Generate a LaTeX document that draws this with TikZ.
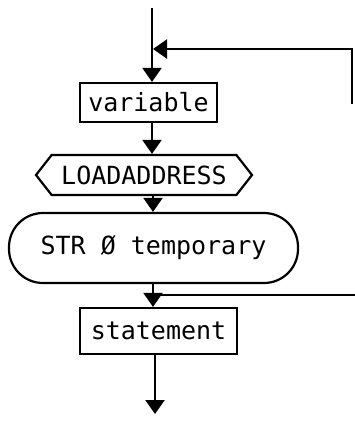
\documentclass[tikz,border=0pt]{standalone}
\usepackage{fontspec}
\setmonofont{DejaVu Sans Mono}
\usetikzlibrary{arrows.meta,shapes.symbols}
\begin{document}
\begin{tikzpicture}[x=1pt,y=-1pt,
  line width=2.2pt,
  flow/.style={-{Triangle[width=19pt,length=14pt]}},
  lbl/.style={font=\ttfamily\fontsize{25}{28}\selectfont, inner sep=0pt},
  boxshape/.style={lbl, draw, rectangle},
  hexshape/.style={lbl, draw, signal, signal to=west and east, signal pointer angle=104},
  ovalshape/.style={lbl, draw, rectangle, rounded corners=34pt}]
\useasboundingbox (0,0) rectangle (355,426);
\node[boxshape, minimum width=137pt, minimum height=39pt] (var) at (148.5,102.5) {variable};
\node[hexshape, minimum width=216pt, minimum height=40pt] (load) at (144,175) {LOADADDRESS};
\node[ovalshape, minimum width=289pt, minimum height=70pt] (str) at (153.5,248) {STR Ø temporary};
\node[boxshape, minimum width=157pt, minimum height=46pt] (stmt) at (158.5,331) {statement};
\coordinate (top) at (152,8);
\coordinate (axisA) at (152,0);
\coordinate (axisB) at (153,0);
\coordinate (axisC) at (155,0);
\coordinate (loopA) at (352,104);
\coordinate (loopB) at (352,49);
\coordinate (loopC) at (153,49);
\coordinate (join) at (153,295);
\coordinate (joinR) at (356,295);
\coordinate (bot) at (155,414);
\draw[flow] (top) -- (top |- var.north);
\draw[flow] (loopA) -- (loopB) -- (loopC);
\draw[flow] (axisA |- var.south) -- (axisA |- load.north);
\draw[flow] (axisB |- load.south) -- (axisB |- str.north);
\draw[flow] (axisB |- str.south) -- (axisB |- stmt.north);
\draw (join) -- (joinR);
\draw[flow] (axisC |- stmt.south) -- (bot);
\end{tikzpicture}
\end{document}
